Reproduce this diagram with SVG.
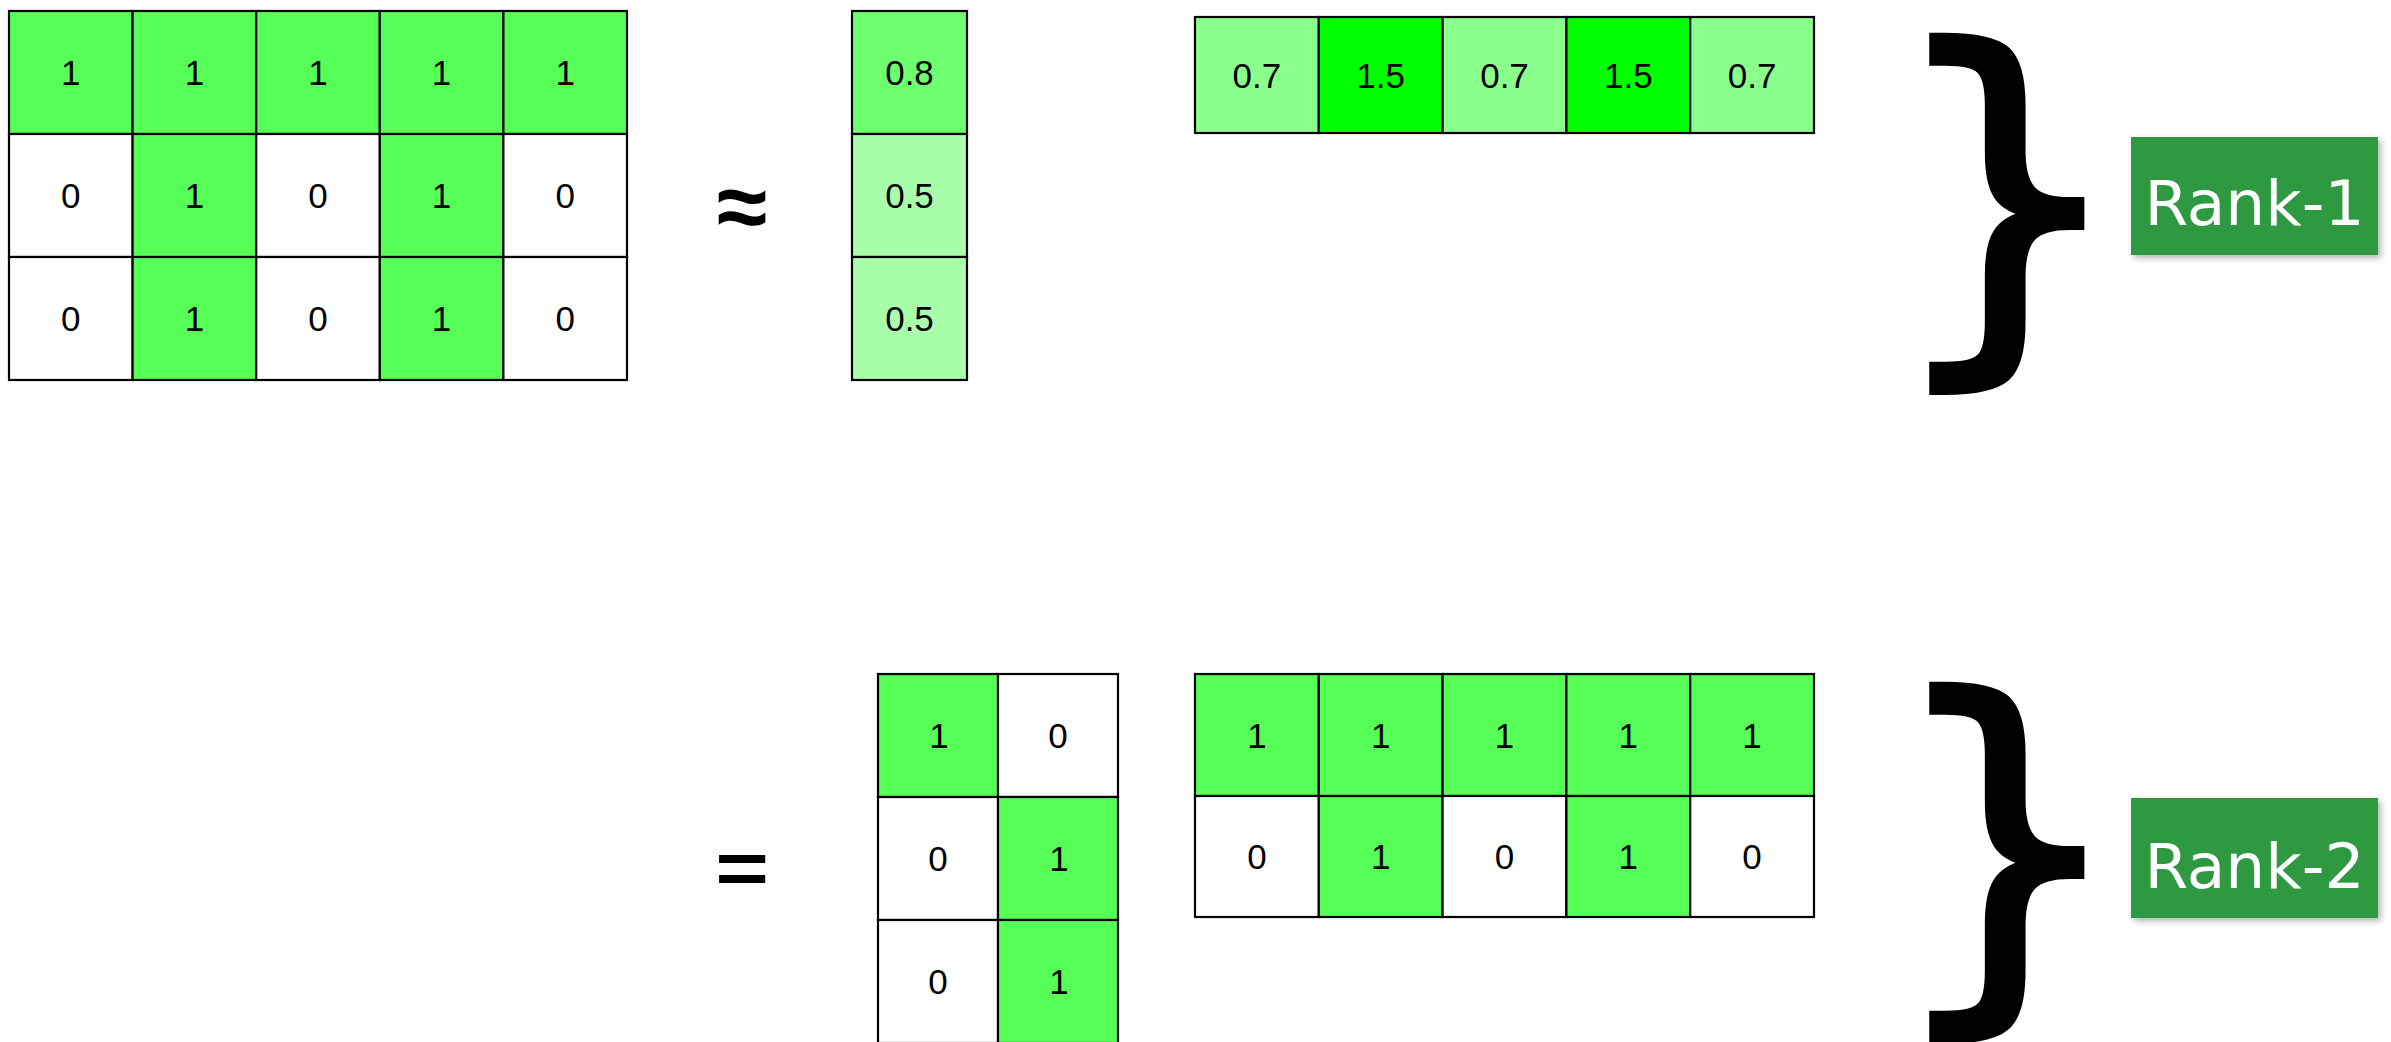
<svg xmlns="http://www.w3.org/2000/svg" width="2391" height="1042" viewBox="0 0 2391 1042">
<defs>
<style>
.c{stroke:#000;stroke-width:2.2}
.g{fill:#56FF56}
.w{fill:#FFFFFF}
.g8{fill:#6DFF6D}
.g5{fill:#A9FFA9}
.g7{fill:#8BFF8B}
.g15{fill:#00FF00}
.t{font-family:"Liberation Sans",Arial,sans-serif;font-size:35px;fill:#000;text-anchor:middle}
.op{font-family:"Liberation Sans",Arial,sans-serif;font-weight:bold;fill:#000;text-anchor:middle}
.br{font-family:"DejaVu Sans",sans-serif;fill:#000;stroke:#000;stroke-width:6}
.rk{fill:#2E9940}
.rt{font-family:"DejaVu Sans",sans-serif;font-size:63px;fill:#FFFFFF;text-anchor:middle}
</style>
<filter id="sh" x="-10%" y="-10%" width="125%" height="130%">
<feDropShadow dx="3" dy="3" stdDeviation="3" flood-color="#000" flood-opacity="0.3"/>
</filter>
</defs>
<rect width="2391" height="1042" fill="#FFFFFF"/>

<g id="matrixA">
<rect class="c g" x="9" y="11" width="123.6" height="123"/>
<rect class="c g" x="132.6" y="11" width="123.6" height="123"/>
<rect class="c g" x="256.2" y="11" width="123.6" height="123"/>
<rect class="c g" x="379.8" y="11" width="123.6" height="123"/>
<rect class="c g" x="503.4" y="11" width="123.6" height="123"/>
<rect class="c w" x="9" y="134" width="123.6" height="123"/>
<rect class="c g" x="132.6" y="134" width="123.6" height="123"/>
<rect class="c w" x="256.2" y="134" width="123.6" height="123"/>
<rect class="c g" x="379.8" y="134" width="123.6" height="123"/>
<rect class="c w" x="503.4" y="134" width="123.6" height="123"/>
<rect class="c w" x="9" y="257" width="123.6" height="123"/>
<rect class="c g" x="132.6" y="257" width="123.6" height="123"/>
<rect class="c w" x="256.2" y="257" width="123.6" height="123"/>
<rect class="c g" x="379.8" y="257" width="123.6" height="123"/>
<rect class="c w" x="503.4" y="257" width="123.6" height="123"/>
<text class="t" x="70.8" y="85">1</text>
<text class="t" x="194.4" y="85">1</text>
<text class="t" x="318" y="85">1</text>
<text class="t" x="441.6" y="85">1</text>
<text class="t" x="565.2" y="85">1</text>
<text class="t" x="70.8" y="208">0</text>
<text class="t" x="194.4" y="208">1</text>
<text class="t" x="318" y="208">0</text>
<text class="t" x="441.6" y="208">1</text>
<text class="t" x="565.2" y="208">0</text>
<text class="t" x="70.8" y="331">0</text>
<text class="t" x="194.4" y="331">1</text>
<text class="t" x="318" y="331">0</text>
<text class="t" x="441.6" y="331">1</text>
<text class="t" x="565.2" y="331">0</text>
</g>

<g id="approx">
<text class="op" x="742" y="238" font-size="92">≈</text>
</g>

<g id="vectorU">
<rect class="c g8" x="852" y="11" width="115" height="123"/>
<rect class="c g5" x="852" y="134" width="115" height="123"/>
<rect class="c g5" x="852" y="257" width="115" height="123"/>
<text class="t" x="909.5" y="85">0.8</text>
<text class="t" x="909.5" y="208">0.5</text>
<text class="t" x="909.5" y="331">0.5</text>
</g>

<g id="vectorV">
<rect class="c g7" x="1195" y="17" width="123.8" height="116"/>
<rect class="c g15" x="1318.8" y="17" width="123.8" height="116"/>
<rect class="c g7" x="1442.6" y="17" width="123.8" height="116"/>
<rect class="c g15" x="1566.4" y="17" width="123.8" height="116"/>
<rect class="c g7" x="1690.2" y="17" width="123.8" height="116"/>
<text class="t" x="1256.9" y="88">0.7</text>
<text class="t" x="1380.7" y="88">1.5</text>
<text class="t" x="1504.5" y="88">0.7</text>
<text class="t" x="1628.3" y="88">1.5</text>
<text class="t" x="1752.1" y="88">0.7</text>
</g>

<g id="brace1">
<text class="br" x="1884" y="329" font-size="386">}</text>
</g>

<g id="rank1">
<rect class="rk" x="2131" y="137" width="247" height="118" filter="url(#sh)"/>
<text class="rt" x="2254.5" y="225">Rank-1</text>
</g>

<g id="equals">
<text class="op" transform="translate(742,893.6) scale(1,0.8)" x="0" y="0" font-size="92">=</text>
</g>

<g id="matrixB">
<rect class="c g" x="878" y="674" width="120" height="123"/>
<rect class="c w" x="998" y="674" width="120" height="123"/>
<rect class="c w" x="878" y="797" width="120" height="123"/>
<rect class="c g" x="998" y="797" width="120" height="123"/>
<rect class="c w" x="878" y="920" width="120" height="123"/>
<rect class="c g" x="998" y="920" width="120" height="123"/>
<text class="t" x="939" y="748">1</text>
<text class="t" x="1058" y="748">0</text>
<text class="t" x="938" y="871">0</text>
<text class="t" x="1059" y="871">1</text>
<text class="t" x="938" y="994">0</text>
<text class="t" x="1059" y="994">1</text>
</g>

<g id="matrixC">
<rect class="c g" x="1195" y="674" width="123.8" height="122"/>
<rect class="c g" x="1318.8" y="674" width="123.8" height="122"/>
<rect class="c g" x="1442.6" y="674" width="123.8" height="122"/>
<rect class="c g" x="1566.4" y="674" width="123.8" height="122"/>
<rect class="c g" x="1690.2" y="674" width="123.8" height="122"/>
<rect class="c w" x="1195" y="796" width="123.8" height="121"/>
<rect class="c g" x="1318.8" y="796" width="123.8" height="121"/>
<rect class="c w" x="1442.6" y="796" width="123.8" height="121"/>
<rect class="c g" x="1566.4" y="796" width="123.8" height="121"/>
<rect class="c w" x="1690.2" y="796" width="123.8" height="121"/>
<text class="t" x="1256.9" y="748">1</text>
<text class="t" x="1380.7" y="748">1</text>
<text class="t" x="1504.5" y="748">1</text>
<text class="t" x="1628.3" y="748">1</text>
<text class="t" x="1752.1" y="748">1</text>
<text class="t" x="1256.9" y="869">0</text>
<text class="t" x="1380.7" y="869">1</text>
<text class="t" x="1504.5" y="869">0</text>
<text class="t" x="1628.3" y="869">1</text>
<text class="t" x="1752.1" y="869">0</text>
</g>

<g id="brace2">
<text class="br" x="1884" y="978" font-size="386">}</text>
</g>

<g id="rank2">
<rect class="rk" x="2131" y="798" width="247" height="120" filter="url(#sh)"/>
<text class="rt" x="2254.5" y="888">Rank-2</text>
</g>

<g id="connectors"></g>
</svg>
